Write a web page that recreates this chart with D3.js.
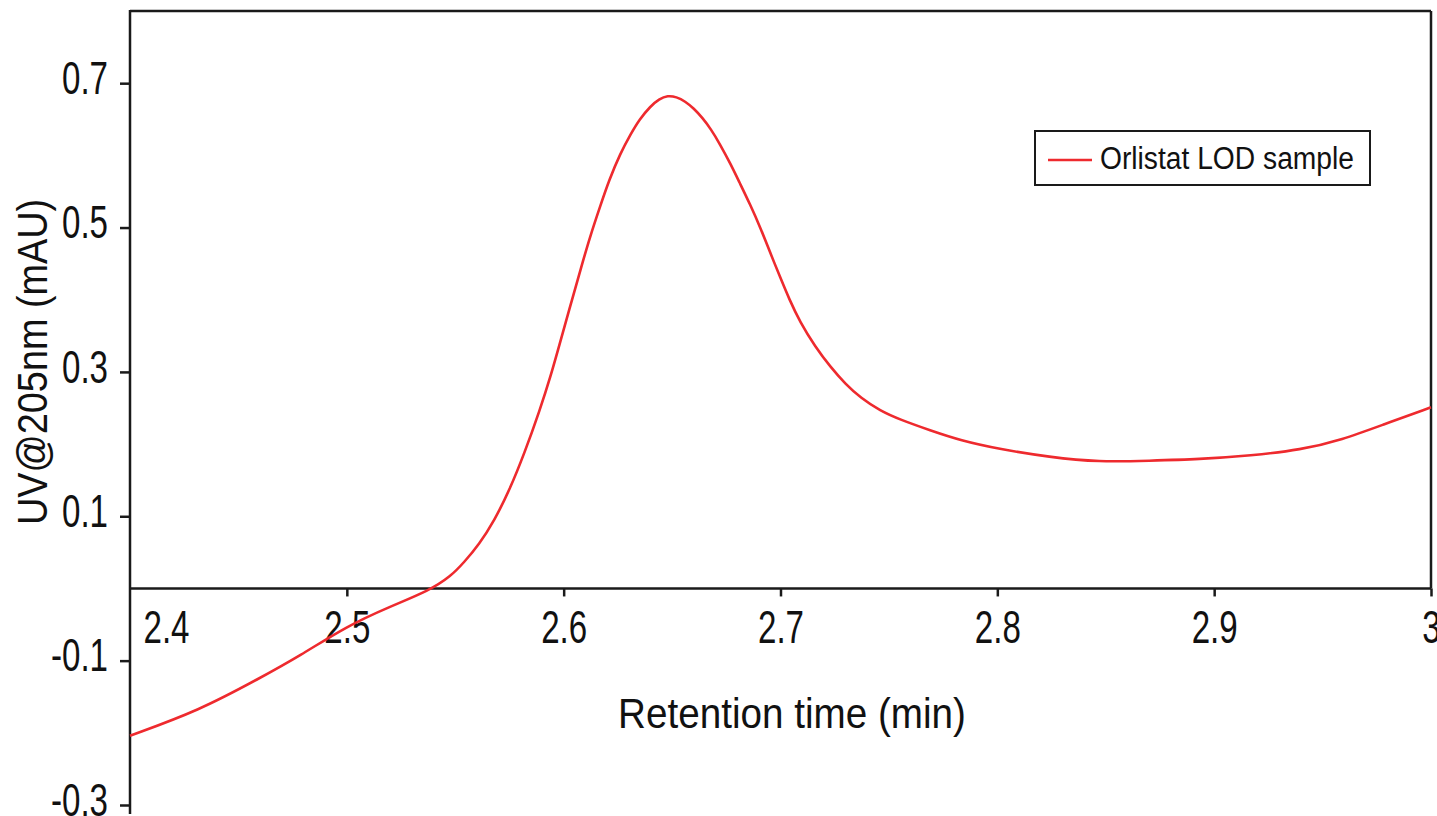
<!DOCTYPE html>
<html>
<head>
<meta charset="utf-8">
<script src="https://cdn.jsdelivr.net/npm/d3@7"></script>
<style>
  html, body { margin: 0; padding: 0; background: #fff; }
  svg { display: block; }
  text { font-family: "Liberation Sans", Arial, sans-serif; fill: #111; }
</style>
</head>
<body>
<svg id="chart" width="1437" height="816"></svg>
<script>
// ---- data ----
const times = [2.400, 2.432, 2.460, 2.478, 2.500, 2.520, 2.538, 2.548, 2.554, 2.561, 2.568, 2.575,
  2.582, 2.589, 2.594, 2.598, 2.603, 2.608, 2.612, 2.617, 2.621, 2.626, 2.631, 2.635, 2.640, 2.644,
  2.648, 2.652, 2.656, 2.660, 2.664, 2.668, 2.672, 2.677, 2.681, 2.686, 2.691, 2.695, 2.700, 2.704, 2.709,
  2.716, 2.723, 2.730, 2.737, 2.746, 2.755, 2.769, 2.783, 2.801, 2.824, 2.847, 2.870, 2.893, 2.917,
  2.940, 2.959, 2.978, 3.000];
const uvValues = [-0.204, -0.169, -0.124, -0.094, -0.052, -0.025, -0.003, 0.017, 0.036, 0.061, 0.094, 0.136,
  0.188, 0.247, 0.294, 0.337, 0.391, 0.444, 0.486, 0.531, 0.566, 0.602, 0.630, 0.650, 0.668, 0.678,
  0.683, 0.681, 0.675, 0.665, 0.652, 0.636, 0.616, 0.588, 0.563, 0.532, 0.498, 0.467, 0.430, 0.401, 0.369,
  0.335, 0.307, 0.283, 0.264, 0.246, 0.234, 0.219, 0.205, 0.193, 0.182, 0.175, 0.177, 0.179, 0.184,
  0.192, 0.206, 0.227, 0.251];
const xTicks = [2.4, 2.5, 2.6, 2.7, 2.8, 2.9, 3];
const yTicks = [-0.3, -0.1, 0.1, 0.3, 0.5, 0.7];
const seriesName = "Orlistat LOD sample";
const xTitle = "Retention time (min)";
const yTitle = "UV@205nm (mAU)";

// ---- layout ----
const svg = d3.select("#chart");
const x = d3.scaleLinear().domain([2.4, 3.0]).range([130, 1431]);
const y = d3.scaleLinear().domain([-0.3, 0.8]).range([805, 11]);
const axisColor = "#1a1a1a";
const lineColor = "#ee2a2e";

function squeeze(sel, k) {
  sel.each(function () {
    const w = this.getComputedTextLength();
    d3.select(this).attr("textLength", w * k).attr("lengthAdjust", "spacingAndGlyphs");
  });
}

// frame (top and right)
svg.append("line").attr("x1", x(2.4)).attr("x2", x(3.0)).attr("y1", y(0.8)).attr("y2", y(0.8))
  .attr("stroke", axisColor).attr("stroke-width", 2.5);
svg.append("line").attr("x1", x(3.0)).attr("x2", x(3.0)).attr("y1", y(0.8)).attr("y2", y(0))
  .attr("stroke", axisColor).attr("stroke-width", 2.5);

// y axis
const yAxis = d3.axisLeft(y).tickValues(yTicks).tickSize(10).tickPadding(12)
  .tickFormat(d => d3.format(".1f")(d).replace("−", "-"));
const gy = svg.append("g").attr("transform", `translate(${x(2.4)},0)`).call(yAxis);
gy.select(".domain").remove();
gy.append("line").attr("x1", 0).attr("x2", 0).attr("y1", y(0.8) - 1).attr("y2", 814)
  .attr("stroke", axisColor).attr("stroke-width", 2.5);
gy.selectAll(".tick line").attr("stroke", axisColor).attr("stroke-width", 2.5);
gy.selectAll(".tick text").attr("font-size", 46).attr("fill", "#111").attr("dy", "0.22em")
  .attr("font-family", "Liberation Sans, Arial, sans-serif").call(squeeze, 0.72);

// x axis at y = 0
const xAxis = d3.axisBottom(x).tickValues(xTicks).tickSize(8).tickPadding(14)
  .tickFormat(d => String(d));
const gx = svg.append("g").attr("transform", `translate(0,${y(0)})`).call(xAxis);
gx.select(".domain").remove();
gx.append("line").attr("x1", x(2.4)).attr("x2", x(3.0)).attr("y1", 0).attr("y2", 0)
  .attr("stroke", axisColor).attr("stroke-width", 2.5);
gx.selectAll(".tick line").attr("stroke", axisColor).attr("stroke-width", 2.5);
gx.selectAll(".tick").filter(d => d === 2.4).select("line").remove();
gx.selectAll(".tick text").attr("font-size", 46).attr("fill", "#111")
  .attr("font-family", "Liberation Sans, Arial, sans-serif").call(squeeze, 0.72);
gx.selectAll(".tick").filter(d => d === 2.4).select("text").attr("x", 36);

// curve
const line = d3.line().x((d, i) => x(times[i])).y(d => y(d)).curve(d3.curveBasis);
svg.append("path").datum(uvValues).attr("d", line)
  .attr("fill", "none").attr("stroke", lineColor).attr("stroke-width", 2.6);

// axis titles
svg.append("text").attr("x", 792).attr("y", 728).attr("text-anchor", "middle")
  .attr("font-size", 42).text(xTitle).call(squeeze, 0.92);
svg.append("text").attr("transform", "translate(47,362) rotate(-90)").attr("text-anchor", "middle")
  .attr("font-size", 42).text(yTitle).call(squeeze, 0.90);

// legend
const lg = svg.append("g");
lg.append("rect").attr("x", 1035).attr("y", 131).attr("width", 335).attr("height", 54)
  .attr("fill", "#fff").attr("stroke", axisColor).attr("stroke-width", 2);
lg.append("line").attr("x1", 1048).attr("x2", 1092).attr("y1", 160).attr("y2", 160)
  .attr("stroke", lineColor).attr("stroke-width", 2.5);
lg.append("text").attr("x", 1100).attr("y", 169).attr("font-size", 31).text(seriesName).call(squeeze, 0.91);
</script>
</body>
</html>
